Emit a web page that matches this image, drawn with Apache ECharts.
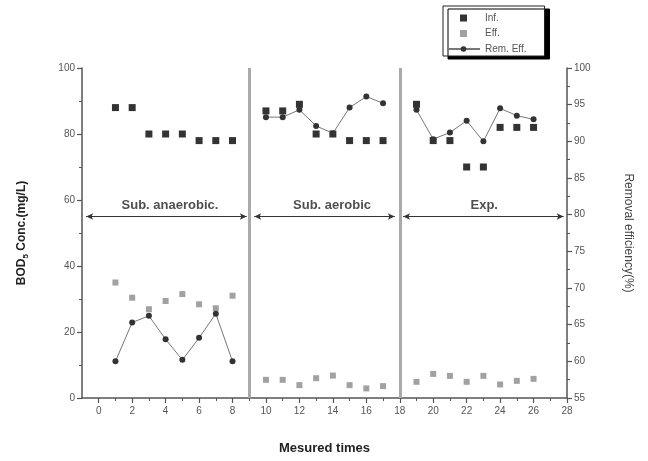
<!DOCTYPE html>
<html>
<head>
<meta charset="utf-8">
<script src="https://cdn.jsdelivr.net/npm/echarts@6/dist/echarts.min.js"></script>
<style>
  html, body { margin: 0; padding: 0; background: #fff; }
  #chart { width: 648px; height: 461px; }
</style>
</head>
<body>
<div id="chart"></div>
<script>
// Measurement index for each sample
const times = [1, 2, 3, 4, 5, 6, 7, 8,
               10, 11, 12, 13, 14, 15, 16, 17,
               19, 20, 21, 22, 23, 24, 25, 26];
// Influent BOD5 (mg/L)
const influent = [88, 88, 80, 80, 80, 78, 78, 78,
                  87, 87, 89, 80, 80, 78, 78, 78,
                  89, 78, 78, 70, 70, 82, 82, 82];
// Effluent BOD5 (mg/L)
const effluent = [35, 30.4, 26.9, 29.4, 31.5, 28.4, 27.2, 31,
                  5.5, 5.5, 3.9, 6.0, 6.8, 3.9, 2.9, 3.6,
                  4.9, 7.3, 6.7, 4.9, 6.7, 4.1, 5.2, 5.8];
// Removal efficiency (%)
const removal = [60, 65.3, 66.2, 63, 60.2, 63.2, 66.5, 60,
                 93.3, 93.3, 94.3, 92.1, 91.1, 94.6, 96.1, 95.2,
                 94.3, 90.3, 91.2, 92.8, 90.0, 94.5, 93.5, 93.0];

// Operating phases
const phaseNames = ['Sub. anaerobic.', 'Sub. aerobic', 'Exp.'];
const phaseLabelX = [4.26, 13.95, 23.05];
const phaseLabelY = 58.5;
const phaseFrom = [-0.75, 9.3, 18.2];
const phaseTo = [8.85, 17.7, 27.8];
const phaseArrowY = 55;
const phaseBreaks = [9, 18];

// Tick labels
const xMajorTicks = [0, 2, 4, 6, 8, 10, 12, 14, 16, 18, 20, 22, 24, 26, 28];
const xMinorTicks = [1, 3, 5, 7, 9, 11, 13, 15, 17, 19, 21, 23, 25, 27];

const pairs = (ys) => times.map((t, i) => [t, ys[i]]);

// Efficiency line is broken between phases
const removalLine = [];
times.forEach((t, i) => {
  const gap = i > 0 ? phaseBreaks.find(b => times[i - 1] < b && t > b) : undefined;
  if (gap !== undefined) removalLine.push([gap, '-']);
  removalLine.push([t, removal[i]]);
});

const squareIcon = 'path://M0,0H10V10H0Z';
const tickText = { fontSize: 10, color: '#555', fontFamily: 'Liberation Sans, Arial, sans-serif' };
const axisLineStyle = { color: '#555', width: 1.5 };

const chart = echarts.init(document.getElementById('chart'), null, { renderer: 'canvas' });

chart.setOption({
  animation: false,
  backgroundColor: '#fff',
  textStyle: { fontFamily: 'Liberation Sans, Arial, sans-serif' },
  grid: { left: 82, right: 81, top: 68, bottom: 63, containLabel: false },
  legend: {
    data: [
      { name: 'Inf.', icon: squareIcon },
      { name: 'Eff.', icon: squareIcon },
      { name: 'Rem. Eff.' }
    ],
    orient: 'vertical',
    left: 443,
    top: 6,
    itemWidth: 33,
    itemHeight: 7,
    itemGap: 5.5,
    symbolKeepAspect: true,
    padding: [7, 18, 2, 3],
    backgroundColor: '#fff',
    borderColor: '#222',
    borderWidth: 1,
    borderRadius: 0,
    shadowColor: '#000',
    shadowBlur: 0,
    shadowOffsetX: 5,
    shadowOffsetY: 3,
    textStyle: { fontSize: 10, color: '#555' }
  },
  xAxis: [
    {
      type: 'value',
      min: -1,
      max: 28,
      interval: 1,
      name: 'Mesured times',
      nameLocation: 'middle',
      nameGap: 44,
      nameTextStyle: { fontSize: 13, fontWeight: 'bold', color: '#222' },
      axisLine: { onZero: false, lineStyle: axisLineStyle },
      axisTick: { inside: false, length: 5, customValues: xMajorTicks, lineStyle: { color: '#555', width: 1.2 } },
      axisLabel: { customValues: xMajorTicks, margin: 8, ...tickText },
      splitLine: { show: false }
    },
    {
      type: 'value',
      min: -1,
      max: 28,
      interval: 1,
      position: 'bottom',
      axisLine: { show: false, onZero: false },
      axisTick: { length: 3, customValues: xMinorTicks, lineStyle: { color: '#555', width: 1 } },
      axisLabel: { show: false },
      splitLine: { show: false }
    }
  ],
  yAxis: [
    {
      type: 'value',
      min: 0,
      max: 100,
      interval: 20,
      name: 'BOD{sub|5} Conc.(mg/L)',
      nameLocation: 'middle',
      nameRotate: 90,
      nameGap: 52,
      nameTextStyle: {
        fontSize: 12, fontWeight: 'bold', color: '#222',
        rich: { sub: { fontSize: 8, fontWeight: 'bold', color: '#222', padding: [8, 0, 0, 0] } }
      },
      axisLine: { show: true, onZero: false, lineStyle: axisLineStyle },
      axisTick: { show: true, length: 5, lineStyle: { color: '#555', width: 1.2 } },
      minorTick: { show: true, splitNumber: 2, length: 3, lineStyle: { color: '#555' } },
      axisLabel: { margin: 7, ...tickText },
      splitLine: { show: false }
    },
    {
      type: 'value',
      min: 55,
      max: 100,
      interval: 5,
      position: 'right',
      name: 'Removal efficiency(%)',
      nameLocation: 'middle',
      nameRotate: -90,
      nameGap: 55,
      nameTextStyle: { fontSize: 12, color: '#444' },
      axisLine: { show: true, onZero: false, lineStyle: axisLineStyle },
      axisTick: { show: true, length: 5, lineStyle: { color: '#555', width: 1.2 } },
      minorTick: { show: true, splitNumber: 2, length: 3, lineStyle: { color: '#555' } },
      axisLabel: { margin: 7, ...tickText },
      splitLine: { show: false }
    }
  ],
  series: [
    {
      // Phase separators
      name: 'phaseBreaks',
      type: 'line',
      xAxisIndex: 0,
      yAxisIndex: 0,
      data: [],
      silent: true,
      markLine: {
        silent: true,
        animation: false,
        symbol: ['none', 'none'],
        label: { show: false },
        lineStyle: { color: '#aaa', width: 3, type: 'solid' },
        data: phaseBreaks.map(b => ({ xAxis: b }))
      }
    },
    {
      // Phase names with double-headed spans
      name: 'phases',
      type: 'scatter',
      xAxisIndex: 0,
      yAxisIndex: 0,
      symbolSize: 0,
      silent: true,
      data: phaseNames.map((n, i) => ({ name: n, value: [phaseLabelX[i], phaseLabelY] })),
      label: {
        show: true,
        position: 'inside',
        formatter: p => p.name,
        fontSize: 13,
        fontWeight: 'bold',
        color: '#222'
      },
      markLine: {
        silent: true,
        animation: false,
        symbol: ['arrow', 'arrow'],
        symbolSize: [5, 7],
        label: { show: false },
        lineStyle: { color: '#333', width: 1, type: 'solid' },
        data: phaseFrom.map((f, i) => [
          { coord: [f, phaseArrowY] },
          { coord: [phaseTo[i], phaseArrowY] }
        ])
      }
    },
    {
      name: 'Inf.',
      type: 'scatter',
      xAxisIndex: 0,
      yAxisIndex: 0,
      symbol: 'rect',
      symbolSize: 7,
      itemStyle: { color: '#000' },
      data: pairs(influent),
      z: 3
    },
    {
      name: 'Eff.',
      type: 'scatter',
      xAxisIndex: 0,
      yAxisIndex: 0,
      symbol: 'rect',
      symbolSize: 6,
      itemStyle: { color: '#8a8a8a' },
      data: pairs(effluent),
      z: 3
    },
    {
      name: 'Rem. Eff.',
      type: 'line',
      xAxisIndex: 0,
      yAxisIndex: 1,
      symbol: 'circle',
      symbolSize: 6,
      showAllSymbol: true,
      connectNulls: false,
      itemStyle: { color: '#333' },
      lineStyle: { color: '#777', width: 1 },
      data: removalLine,
      z: 4
    }
  ]
});
</script>
</body>
</html>
